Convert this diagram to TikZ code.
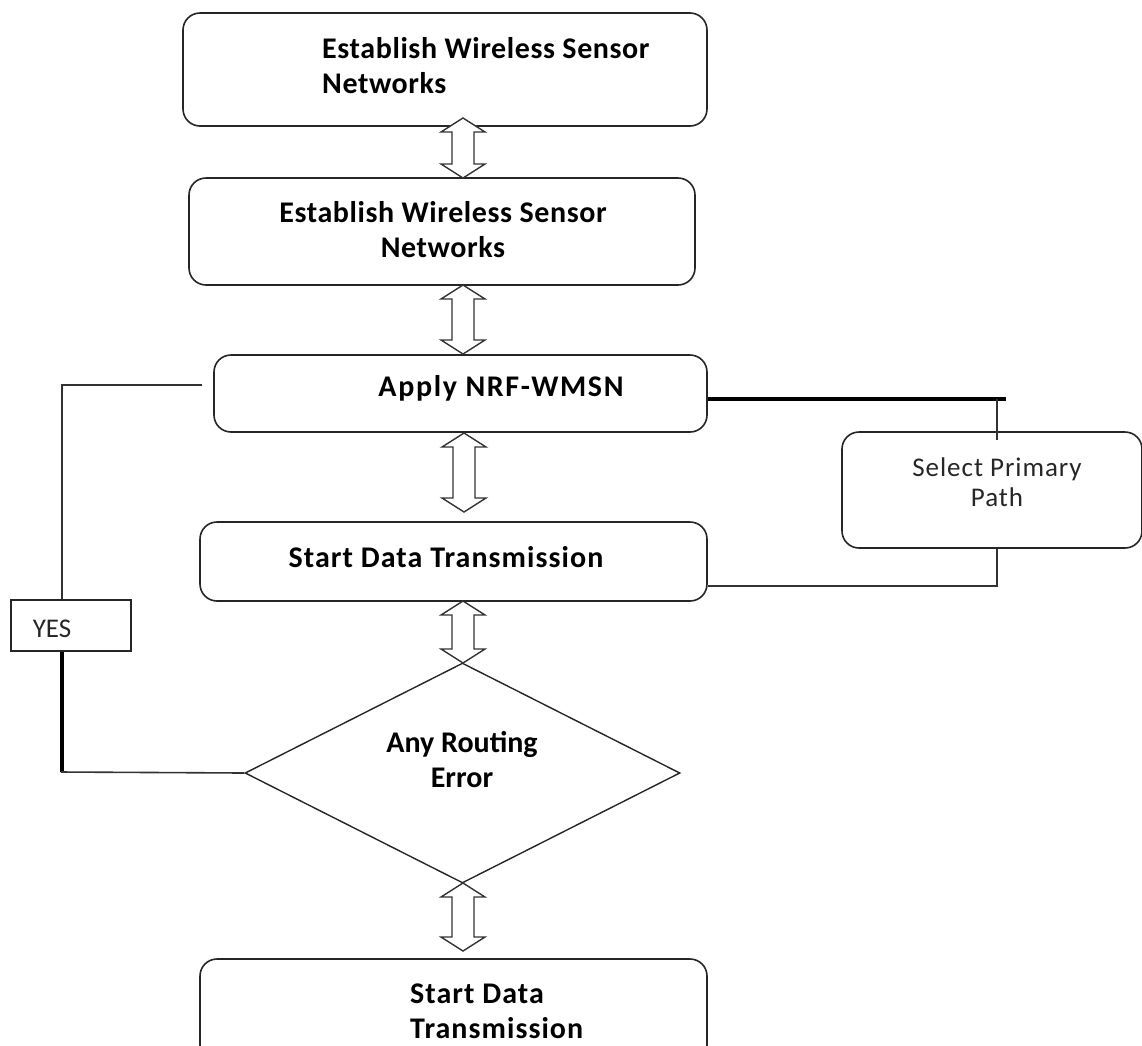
\documentclass[tikz,border=0pt]{standalone}
\usepackage{fontspec}
\setmainfont{Carlito}
\usetikzlibrary{shapes.geometric}

\tikzset{
  box/.style={draw=black!85, line width=1.6pt, rounded corners=17pt, inner sep=0pt},
  plainbox/.style={draw=black!85, line width=1.6pt, inner sep=0pt},
  decision/.style={diamond, draw=black!85, line width=1.4pt, inner sep=0pt},
  btext/.style={font=\fontsize{30}{35}\selectfont\bfseries\addfontfeature{LetterSpace=#1}, inner sep=0pt},
  btext/.default=0,
  rtext/.style={font=\fontsize{27}{30}\selectfont\addfontfeature{LetterSpace=#1}, inner sep=0pt, text=black!85},
  rtext/.default=0,
  link/.style={draw=black!80, line width=1.6pt},
  thicklink/.style={draw=black, line width=3.4pt},
  hollow/.style={draw=black!80, line width=1.4pt, fill=white, line join=miter}
}

% hollow two-headed arrow between two heights at a given x
\newcommand{\twoway}[3]{%
  \draw[hollow] (#1,#2) -- (#1+22,#2+14) -- (#1+11,#2+14) -- (#1+11,#3-14)
    -- (#1+22,#3-14) -- (#1,#3) -- (#1-22,#3-14) -- (#1-11,#3-14)
    -- (#1-11,#2+14) -- (#1-22,#2+14) -- cycle;}

\begin{document}
\begin{tikzpicture}[x=1pt, y=-1pt]
\useasboundingbox (0,0) rectangle (1142,1045);
\clip (0,0) rectangle (1142,1045);

% boxes of the main column
\node[box, minimum width=524pt, minimum height=113pt] (b1) at (445,69.5) {};
\node[box, minimum width=506pt, minimum height=107pt] (b2) at (442,231.5) {};
\node[box, minimum width=493pt, minimum height=77pt]  (b3) at (460.5,393.5) {};
\node[box, minimum width=507pt, minimum height=79pt]  (b4) at (453.5,561.5) {};
\node[decision, minimum width=435pt, minimum height=220pt] (d1) at (462.5,773) {};
\node[box, minimum width=507pt, minimum height=103pt] (b5) at (453.5,1010.5) {};

% side boxes
\node[box, minimum width=300pt, minimum height=116pt] (sp) at (992,490) {};
\node[plainbox, minimum width=120pt, minimum height=51pt] (yes) at (71,625.5) {};

% texts
\node[btext=2, anchor=west, align=left] (t1) at (322,66) {Establish Wireless Sensor\\Networks};
\node[btext=2, align=center] (t2) at (443,230) {Establish Wireless Sensor\\Networks};
\node[btext=5.5] (t3) at (501,388) {Apply NRF-WMSN};
\node[btext=3.5] (t4) at (446,557) {Start Data Transmission};
\node[btext, align=center] (t5) at (462,760) {Any Routing\\Error};
\node[btext=3.5, anchor=west, align=left] (t6) at (410,1011) {Start Data\\Transmission};
\node[rtext=3.5, align=center] (t7) at (997,482) {Select Primary\\Path};
\node[rtext] (t8) at (52,629) {YES};

% two-way arrows down the column
\twoway{463}{118}{178}
\twoway{463}{285}{354}
\twoway{464}{433}{512}
\twoway{463}{601}{663}
\twoway{463}{883}{951}

% loop back from the decision to NRF-WMSN
\coordinate (l1) at (202,385);
\coordinate (l2) at (62,385);
\draw[link] (l1) -- (l2) -- (l2 |- yes.north);
\draw[thicklink] (yes.south -| l2) -- (62,772);
\draw[link] (61,772) -- (d1.west);

% branch to the primary path
\coordinate (r1) at (1006,399);
\coordinate (r2) at (997,399);
\draw[thicklink] (b3.east |- r1) -- (r1);
\draw[link] (r2) -- (997,440);
\coordinate (r3) at (997,586);
\draw[link] (b4.east |- r3) -- (r3) -- (r3 |- sp.south);
\end{tikzpicture}
\end{document}
